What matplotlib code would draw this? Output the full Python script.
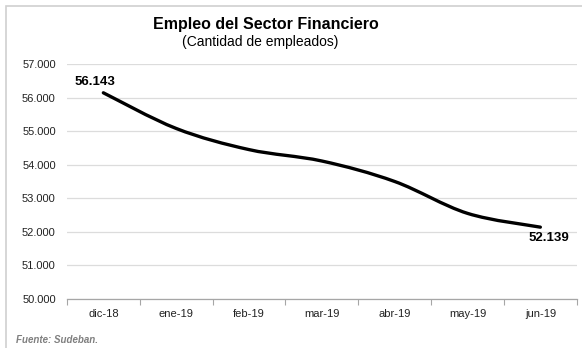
import numpy as np
import matplotlib
matplotlib.use("Agg")
import matplotlib.pyplot as plt
from matplotlib.path import Path
from matplotlib.patches import PathPatch, Rectangle

plt.rcParams['font.family'] = ['Liberation Sans', 'DejaVu Sans']

# Empleados del sector financiero por mes
meses = ['dic-18', 'ene-19', 'feb-19', 'mar-19', 'abr-19', 'may-19', 'jun-19']
empleados = [56143, 55080, 54450, 54110, 53500, 52550, 52139]
y_ticks = [50000, 51000, 52000, 53000, 54000, 55000, 56000, 57000]


def miles(v):
    return f"{v:,.0f}".replace(",", ".")


def curva_suave(xs, ys):
    # curva tipo Catmull-Rom convertida a tramos Bezier cúbicos
    pts = np.column_stack([xs, ys]).astype(float)
    ext = np.vstack([pts[0], pts, pts[-1]])
    verts = [tuple(pts[0])]
    codes = [Path.MOVETO]
    for i in range(1, len(ext) - 2):
        p0, p1, p2, p3 = ext[i - 1], ext[i], ext[i + 1], ext[i + 2]
        c1 = p1 + (p2 - p0) / 6
        c2 = p2 - (p3 - p1) / 6
        verts += [tuple(c1), tuple(c2), tuple(p2)]
        codes += [Path.CURVE4] * 3
    return Path(verts, codes)


fig = plt.figure(figsize=(5.82, 3.48), dpi=100)
ax = fig.add_axes([0.115, 0.141, 0.876, 0.675])

x = np.arange(len(meses))
ax.add_patch(PathPatch(curva_suave(x, empleados), fill=False,
                       edgecolor='black', lw=2.4, capstyle='round', zorder=3))

ax.set_xlim(-0.5, len(meses) - 0.5)
ax.set_ylim(50000, 57000)
ax.set_yticks(y_ticks)
ax.set_yticklabels([miles(v) for v in y_ticks], fontsize=8, color='#222222')
ax.set_xticks(x)
ax.set_xticklabels(meses, fontsize=8, color='#222222')
ax.set_xticks(np.arange(-0.5, len(meses)), minor=True)
ax.tick_params(axis='x', which='major', length=0, pad=7)
ax.tick_params(axis='x', which='minor', length=4, color='#a6a6a6', width=0.8)
ax.tick_params(axis='y', length=0, pad=8)

ax.grid(axis='y', color='#dcdcdc', lw=0.9)
ax.set_axisbelow(True)
for s in ['top', 'right', 'left']:
    ax.spines[s].set_visible(False)
ax.spines['bottom'].set_color('#a6a6a6')
ax.spines['bottom'].set_linewidth(0.9)

# etiquetas de primer y último valor
ax.annotate(miles(empleados[0]), (x[0], empleados[0]), xytext=(-6, 8),
            textcoords='offset points', ha='center', va='center',
            fontsize=9.5, fontweight='bold')
ax.annotate(miles(empleados[-1]), (x[-1], empleados[-1]), xytext=(6, -8),
            textcoords='offset points', ha='center', va='center',
            fontsize=9.5, fontweight='bold')

fig.text(266 / 582, 1 - 25 / 348, 'Empleo del Sector Financiero',
         ha='center', va='center', fontsize=11.5, fontweight='bold')
fig.text(260 / 582, 1 - 42 / 348, '(Cantidad de empleados)',
         ha='center', va='center', fontsize=10)
fig.text(16 / 582, 1 - 340 / 348, 'Fuente: Sudeban.', ha='left', va='center',
         fontsize=7, style='italic', fontweight='bold', color='#7f7f7f')

# marco del gráfico
fig.patches.append(Rectangle((6 / 582, -0.02), 1.1, 1 - 6 / 348 + 0.02,
                             transform=fig.transFigure, fill=False,
                             edgecolor='#d0d0d0', lw=1.2))

fig.savefig('out.png', dpi=100, facecolor='white')
